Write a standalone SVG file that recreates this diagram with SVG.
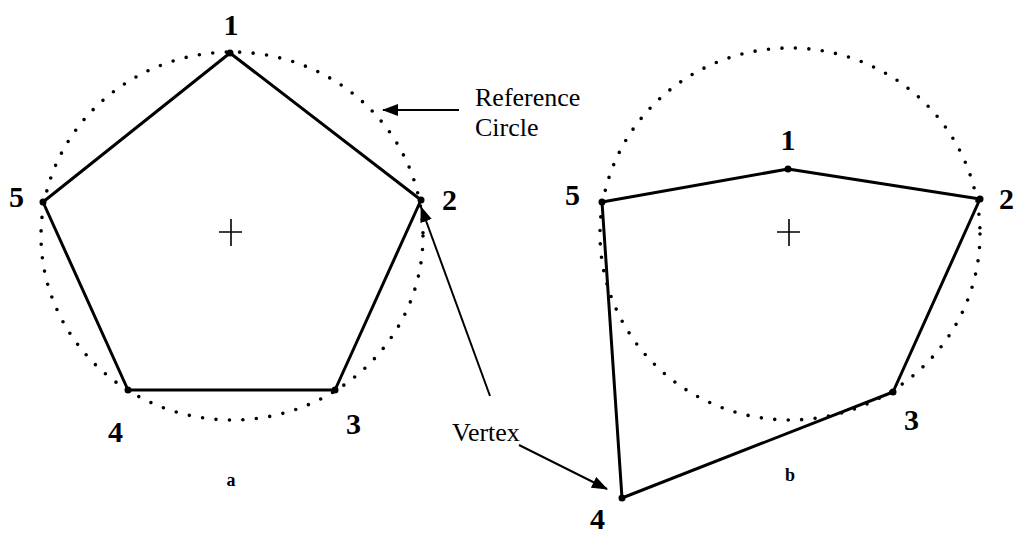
<svg xmlns="http://www.w3.org/2000/svg" width="1015" height="536" viewBox="0 0 1015 536">
<style>
.circ{fill:none;stroke:#000;stroke-width:3.6;stroke-linecap:round;stroke-dasharray:0 13.5}
.poly{fill:none;stroke:#000;stroke-width:3;stroke-linejoin:round}
.thin{fill:none;stroke:#000;stroke-width:1.6}
.arr{fill:none;stroke:#000;stroke-width:2}
.num{font-family:"Liberation Serif",serif;font-weight:bold;font-size:30px;fill:#000}
.cap{font-family:"Liberation Serif",serif;font-weight:bold;font-size:18px;fill:#000}
.lbl{font-family:"Liberation Serif",serif;font-size:26px;fill:#000}
</style>
<defs>
<marker id="ah" markerWidth="16" markerHeight="12" refX="15" refY="6" orient="auto" markerUnits="userSpaceOnUse">
<path d="M0,0 L16,6 L0,12 Z" fill="#000"/>
</marker>
</defs>
<g id="figure-a">
<ellipse class="circ" cx="232" cy="236" rx="191" ry="184"/>
<polygon class="poly" points="230,53 421,200 335,390 128,390 43,202"/>
<path class="thin" d="M219,232 H242 M231,219 V246"/>
<g fill="#000"><circle cx="230" cy="53" r="3.5"/><circle cx="421" cy="200" r="3.5"/><circle cx="335" cy="390" r="3.5"/><circle cx="128" cy="390" r="3.5"/><circle cx="43" cy="202" r="3.5"/></g>
<text class="num" x="231" y="35" text-anchor="middle">1</text>
<text class="num" x="442" y="210">2</text>
<text class="num" x="346" y="434">3</text>
<text class="num" x="108" y="442">4</text>
<text class="num" x="9" y="207">5</text>
<text class="cap" x="231" y="486" text-anchor="middle">a</text>
</g>
<g id="figure-b">
<ellipse class="circ" cx="790" cy="234" rx="190" ry="186"/>
<polygon class="poly" points="788,169 980,199 893,392 622,498 602,202"/>
<path class="thin" d="M777,232 H800 M789,219 V246"/>
<g fill="#000"><circle cx="788" cy="169" r="3.5"/><circle cx="980" cy="199" r="3.5"/><circle cx="893" cy="392" r="3.5"/><circle cx="622" cy="498" r="3.5"/><circle cx="602" cy="202" r="3.5"/></g>
<text class="num" x="788" y="150" text-anchor="middle">1</text>
<text class="num" x="999" y="209">2</text>
<text class="num" x="904" y="430">3</text>
<text class="num" x="590" y="529">4</text>
<text class="num" x="565" y="205">5</text>
<text class="cap" x="790" y="481" text-anchor="middle">b</text>
</g>
<g id="labels">
<text class="lbl" x="475" y="106">Reference</text>
<text class="lbl" x="475" y="136">Circle</text>
<text class="lbl" x="452" y="441">Vertex</text>
</g>
<g id="connectors">
<line class="arr" x1="459" y1="110" x2="383" y2="110" marker-end="url(#ah)"/>
<line class="arr" x1="490" y1="396" x2="421" y2="207" marker-end="url(#ah)"/>
<line class="arr" x1="519" y1="445" x2="607" y2="489" marker-end="url(#ah)"/>
</g>
</svg>
